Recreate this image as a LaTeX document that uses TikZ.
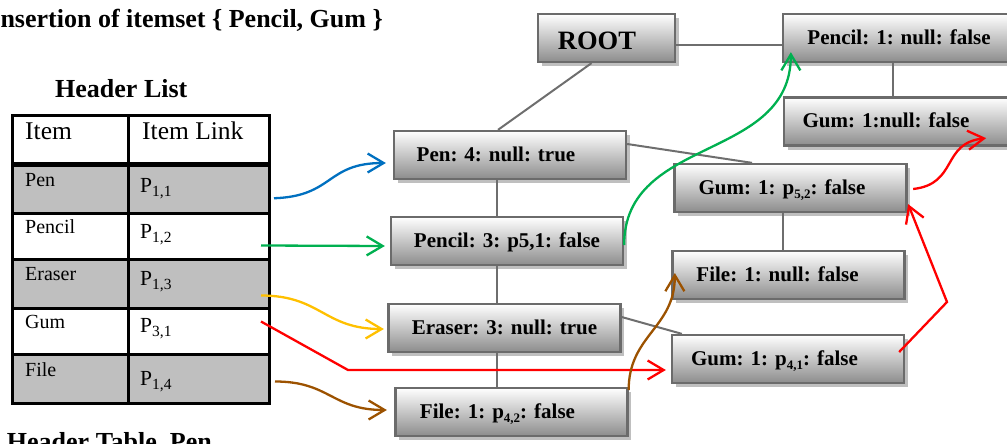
\documentclass[tikz,border=0pt]{standalone}
\usepackage{fontspec}
\setmainfont{Liberation Serif}
\usetikzlibrary{arrows.meta,shadows}

\definecolor{lnk}{HTML}{6E6E6E}
\definecolor{bord}{HTML}{6B6B6B}
\definecolor{cellgray}{HTML}{BFBFBF}
\definecolor{ablue}{HTML}{0070C0}
\definecolor{agreen}{HTML}{00B050}
\definecolor{ayellow}{HTML}{FFC000}
\definecolor{ared}{HTML}{FF0000}
\definecolor{abrown}{HTML}{9C5200}

\newcommand\setfs[1]{\fontsize{#1}{#1}\selectfont}
\newcommand\subtx[2][13]{\raisebox{-4pt}{\fontsize{#1}{#1}\selectfont #2}}

\begin{document}
\begin{tikzpicture}[x=1pt,y=-1pt,
  nodebox/.style={draw=bord, line width=2.3pt, rectangle,
    top color=white, bottom color=black!45,
    minimum width=232pt, minimum height=48pt, inner sep=0pt,
    text height=14.5pt, text depth=1.5pt, font=\setfs{21}\bfseries,
    drop shadow={shadow xshift=3.5pt, shadow yshift=-4pt, fill=black!25, opacity=1}},
  tree/.style={draw=lnk, line width=2pt},
  ptr/.style={line width=2.3pt, -{Straight Barb[length=16pt,width=19pt]}},
  cell/.style={draw=black, line width=3pt, rectangle, inner sep=0pt, anchor=north west},
  cellhead/.style={anchor=base west, inner sep=0pt, font=\setfs{25.5}},
  celltext/.style={anchor=base west, inner sep=0pt, font=\setfs{20}},
  celllink/.style={anchor=base west, inner sep=0pt, font=\setfs{21.5}},
  heading/.style={inner sep=0pt, font=\setfs{26}\bfseries},
]
\useasboundingbox (0,0) rectangle (1007,444);
\clip (0,0) rectangle (1007,444);

% headings
\node[heading, anchor=base east] (title) at (383,28) {Insertion of itemset \{ Pencil, Gum \}};
\node[heading, anchor=base west] (hlist) at (55,97) {Header List};
\node[heading, anchor=base east] (htable) at (212,450) {Header Table\_Pen};

% header list table
\node[cell, minimum width=116pt, minimum height=48pt] (i0) at (11,113.5) {};
\node[cell, minimum width=140.5pt, minimum height=48pt] (l0) at (127,113.5) {};
\node[cell, fill=cellgray, minimum width=116pt, minimum height=50.5pt] (i1) at (11,161.5) {};
\node[cell, fill=cellgray, minimum width=140.5pt, minimum height=50.5pt] (l1) at (127,161.5) {};
\node[cell, minimum width=116pt, minimum height=46pt] (i2) at (11,212) {};
\node[cell, minimum width=140.5pt, minimum height=46pt] (l2) at (127,212) {};
\node[cell, fill=cellgray, minimum width=116pt, minimum height=48.5pt] (i3) at (11,258) {};
\node[cell, fill=cellgray, minimum width=140.5pt, minimum height=48.5pt] (l3) at (127,258) {};
\node[cell, minimum width=116pt, minimum height=46.5pt] (i4) at (11,306.5) {};
\node[cell, minimum width=140.5pt, minimum height=46.5pt] (l4) at (127,306.5) {};
\node[cell, fill=cellgray, minimum width=116pt, minimum height=48.5pt] (i5) at (11,353) {};
\node[cell, fill=cellgray, minimum width=140.5pt, minimum height=48.5pt] (l5) at (127,353) {};
\draw[line width=5pt] (i0.south west) -- (l0.south east);

\node[cellhead] (ti0) at (25,139) {Item};
\node[cellhead] (tl0) at (142,139) {Item Link};
\node[celltext] (ti1) at (25,186) {Pen};
\node[celltext] (ti2) at (25,233) {Pencil};
\node[celltext] (ti3) at (25,280) {Eraser};
\node[celltext] (ti4) at (25,328) {Gum};
\node[celltext] (ti5) at (25,376) {File};
\node[celllink] (tl1) at (140,192) {P\subtx[15.5]{1,1}};
\node[celllink] (tl2) at (140,238) {P\subtx[15.5]{1,2}};
\node[celllink] (tl3) at (140,285) {P\subtx[15.5]{1,3}};
\node[celllink] (tl4) at (140,332) {P\subtx[15.5]{3,1}};
\node[celllink] (tl5) at (140,385) {P\subtx[15.5]{1,4}};

% tree nodes
\node[nodebox, minimum width=137pt, font=\setfs{26.5}\bfseries, text height=24pt, text depth=0pt]
  (root) at (606.5,38) {\hspace*{-19pt}ROOT};
\node[nodebox] (pencil1) at (899,38) {Pencil: 1: null: false};
\node[nodebox] (gumA) at (900,121.5) {\hspace*{-28pt}Gum: 1:null: false};
\node[nodebox] (pen) at (510,155) {\hspace*{-28pt}Pen: 4: null: true};
\node[nodebox] (gumB) at (790.5,188) {\hspace*{-17pt}Gum: 1: p\subtx{5,2}: false};
\node[nodebox] (pencil3) at (507,241) {Pencil: 3: p5,1: false};
\node[nodebox] (fileN) at (788.5,275) {\hspace*{-22pt}File: 1: null: false};
\node[nodebox] (eraser) at (504.5,328) {Eraser: 3: null: true};
\node[nodebox] (gumC) at (788,359) {\hspace*{-27pt}Gum: 1: p\subtx{4,1}: false};
\node[nodebox] (fileP) at (511.5,412) {\hspace*{-28pt}File: 1: p\subtx{4,2}: false};

% tree links
\draw[tree] ([yshift=-7pt]root.east) -- ([yshift=-7pt]pencil1.west);
\draw[tree] ([xshift=-15pt]root.south) -- ([xshift=-12pt]pen.north);
\draw[tree] ([xshift=-6pt]pencil1.south) -- ([xshift=-6pt]pencil1.south |- gumA.north);
\draw[tree] ([yshift=11pt]pen.east) -- ([xshift=-38.5pt]gumB.north);
\coordinate (trunk) at ([xshift=-13pt]pen.south);
\draw[tree] (trunk) -- (trunk |- pencil3.north);
\draw[tree] (pencil3.south -| trunk) -- (eraser.north -| trunk);
\draw[tree] (eraser.south -| trunk) -- (fileP.north -| trunk);
\draw[tree] ([yshift=11pt]eraser.east) -- ([xshift=11pt]gumC.north west);
\draw[tree] ([xshift=-7.5pt]gumB.south) -- ([xshift=-7.5pt]gumB.south |- fileN.north);

% node links
\draw[ptr, ablue] ([xshift=3.5pt,yshift=-10pt]l1.east)
  .. controls +(60,-2) and +(-60,0) .. ([xshift=-7pt,yshift=-8pt]pen.west);
\draw[ptr, agreen] ([xshift=-9.5pt,yshift=-9pt]l2.east) -- ([xshift=-5pt,yshift=-5pt]pencil3.west);
\draw[ptr, ayellow] ([xshift=-9.5pt,yshift=-11.75pt]l3.east)
  .. controls +(60,0) and +(-60,0) .. ([xshift=-3.5pt,yshift=-1pt]eraser.west);
\coordinate (rc1) at (348,370);
\draw[ptr, ared] ([xshift=-9.5pt,yshift=9.75pt]l4.east) -- (rc1) -- ([xshift=-5pt,yshift=-11pt]gumC.west);
\draw[ptr, abrown] ([xshift=4.5pt,yshift=-2.75pt]l5.east)
  .. controls +(55,0) and +(-55,0) .. ([xshift=-7.5pt,yshift=2pt]fileP.west);
\draw[ptr, agreen] ([yshift=-4pt]pencil3.east)
  .. controls +(0,-110) and +(0,110) .. ([xshift=9pt,yshift=11pt]pencil1.south west);
\draw[ptr, abrown] ([yshift=22pt]fileP.east)
  .. controls +(0,-55) and +(0,55) .. ([xshift=3.5pt,yshift=2pt]fileN.west);
\coordinate (rc2) at (947,302);
\draw[ptr, ared] ([xshift=-6pt,yshift=7pt]gumC.east) -- (rc2) -- ([xshift=0.5pt,yshift=9pt]gumB.south east);
\draw[ptr, ared] ([xshift=5.5pt,yshift=-1pt]gumB.east)
  .. controls +(45,-5) and +(-45,5) .. ([xshift=-31pt,yshift=8.5pt]gumA.south east);
\end{tikzpicture}
\end{document}
